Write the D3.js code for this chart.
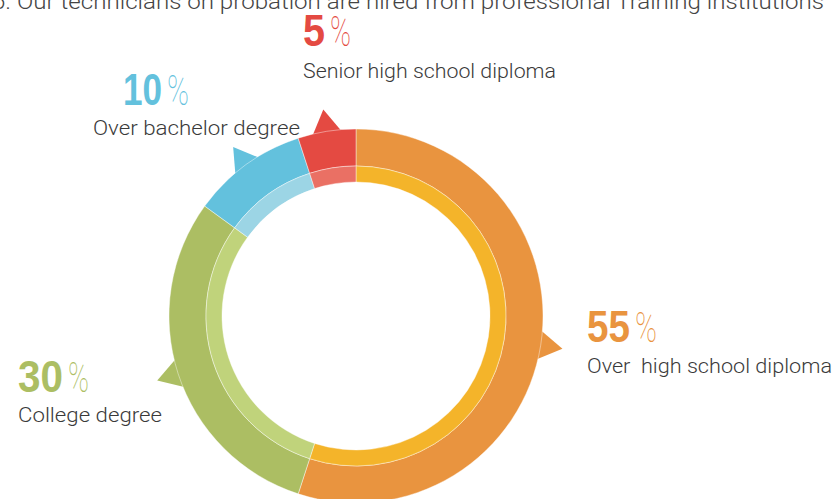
<!DOCTYPE html>
<html>
<head>
<meta charset="utf-8">
<script src="https://cdn.jsdelivr.net/npm/d3@7"></script>
<style>
html,body{margin:0;padding:0;background:#fff;}
svg{display:block;}
</style>
</head>
<body>
<svg id="chart" width="837" height="499"></svg>
<script>
const title = "6. Our technicians on probation are hired from professional Training institutions";
const categories = ["Over  high school diploma", "College degree", "Over bachelor degree", "Senior high school diploma"];
const values = [55, 30, 10, 5];
const outerColors = ["#E9943F", "#ACBE63", "#63C1DD", "#E44A42"];
const innerColors = ["#F4B42A", "#C0D37B", "#9CD5E5", "#EA7064"];

// layout for labels (x positions, baselines, rendered widths)
const labelLayout = [
  {nx: 587, ny: 342, nw: 43, px: 635, pw: 22, lx: 587, ly: 373, lw: 245},
  {nx: 18,  ny: 392, nw: 45, px: 68,  pw: 21, lx: 18,  ly: 422, lw: 144},
  {nx: 123, ny: 105, nw: 39, px: 167, pw: 22, lx: 93,  ly: 135, lw: 207},
  {nx: 303, ny: 46,  nw: 22, px: 330, pw: 21, lx: 303, ly: 78,  lw: 253}
];

const svg = d3.select("#chart");
const cx = 356, cy = 316;
const rOuter = 187, rMid = 150, rInner = 134, rTip = 209, halfBase = 4.2 * Math.PI / 180;

const data = categories.map((c, i) => ({cat: c, value: values[i], i}));
const pie = d3.pie().sort(null).value(d => d.value).startAngle(0).endAngle(2 * Math.PI);
const arcs = pie(data);

const g = svg.append("g").attr("transform", `translate(${cx},${cy})`);

const outerArc = d3.arc().innerRadius(rMid).outerRadius(rOuter);
const innerArc = d3.arc().innerRadius(rInner).outerRadius(rMid);

// arrows (pointers) at the middle of each outer segment
const pt = (a, r) => [r * Math.sin(a), -r * Math.cos(a)];
g.selectAll("path.arrow").data(arcs).enter().append("path")
  .attr("class", "arrow")
  .attr("d", d => {
    const m = (d.startAngle + d.endAngle) / 2;
    const tip = pt(m, rTip);
    const b1 = pt(m - halfBase, rOuter), b2 = pt(m + halfBase, rOuter);
    const ext = p => [tip[0] + (p[0] - tip[0]) * 1.5, tip[1] + (p[1] - tip[1]) * 1.5];
    return `M${ext(b1)}L${tip}L${ext(b2)}Z`;
  })
  .attr("fill", d => outerColors[d.data.i]);

g.selectAll("path.outer").data(arcs).enter().append("path")
  .attr("class", "outer")
  .attr("d", outerArc)
  .attr("fill", d => outerColors[d.data.i])
  .attr("stroke", "#fff").attr("stroke-width", 0.6).attr("stroke-opacity", 0.7);

g.selectAll("path.inner").data(arcs).enter().append("path")
  .attr("class", "inner")
  .attr("d", innerArc)
  .attr("fill", d => innerColors[d.data.i])
  .attr("stroke", "#fff").attr("stroke-width", 0.6).attr("stroke-opacity", 0.7);

// title (cut at the top)
svg.append("text")
  .attr("x", -8).attr("y", 9)
  .attr("textLength", 832).attr("lengthAdjust", "spacingAndGlyphs")
  .attr("font-family", "Roboto, 'Liberation Sans', sans-serif")
  .attr("font-weight", 300)
  .attr("font-size", 22)
  .attr("fill", "#444")
  .text(title);

// labels
data.forEach((d, i) => {
  const L = labelLayout[i];
  svg.append("text")
    .attr("x", L.nx).attr("y", L.ny)
    .attr("textLength", L.nw).attr("lengthAdjust", "spacingAndGlyphs")
    .attr("font-family", "'Liberation Sans', Arial, sans-serif")
    .attr("font-weight", "bold")
    .attr("font-size", 44)
    .attr("fill", outerColors[i])
    .text(d.value);
  svg.append("text")
    .attr("x", L.px).attr("y", L.ny)
    .attr("textLength", L.pw).attr("lengthAdjust", "spacingAndGlyphs")
    .attr("font-family", "Roboto, 'Liberation Sans', sans-serif")
    .attr("font-weight", 100)
    .attr("font-size", 43)
    .attr("fill", outerColors[i])
    .text("%");
  svg.append("text")
    .attr("x", L.lx).attr("y", L.ly)
    .attr("textLength", L.lw).attr("lengthAdjust", "spacingAndGlyphs")
    .attr("font-family", "Roboto, 'Liberation Sans', sans-serif")
    .attr("font-weight", 300)
    .attr("font-size", 21)
    .attr("fill", "#3a3a3a")
    .style("white-space", "pre")
    .text(d.cat);
});
</script>
</body>
</html>
